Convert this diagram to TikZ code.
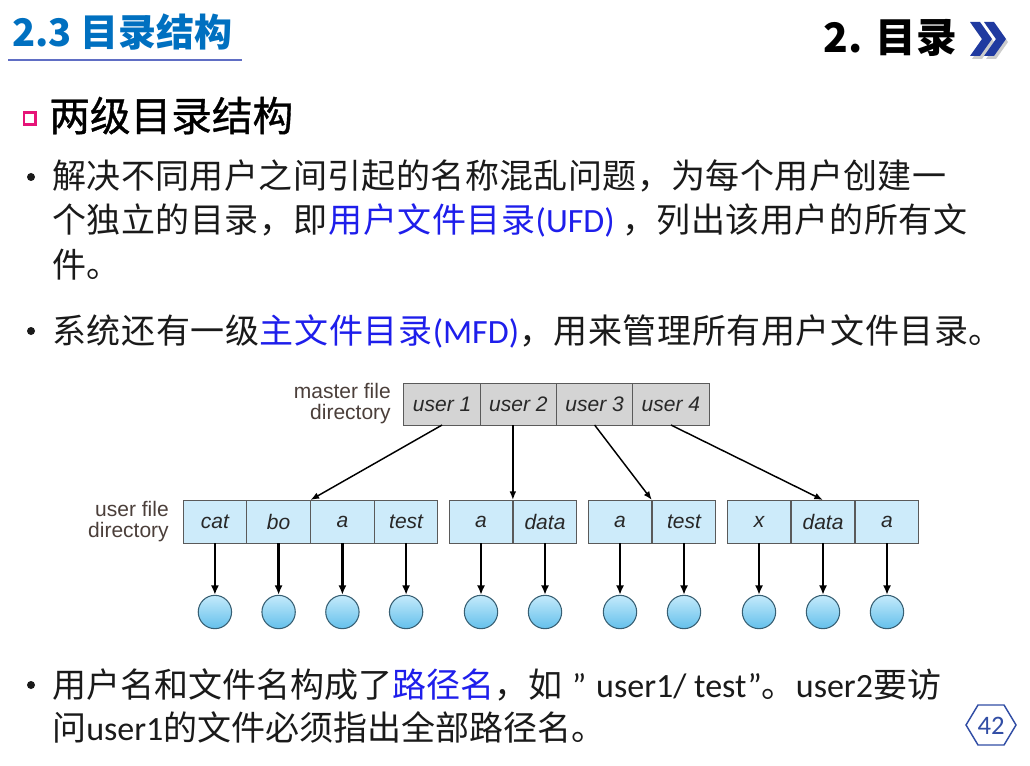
\documentclass[tikz,border=0pt]{standalone}
\usepackage{fontspec}
\setmainfont{Noto Sans CJK SC}
\newfontfamily\headfont{Noto Sans CJK SC}[FakeBold=0.9]
\newfontfamily\lat{Carlito}
\newfontfamily\arial{Liberation Sans}
\usetikzlibrary{arrows.meta}

\definecolor{titleblue}{RGB}{0,112,192}
\definecolor{rulecol}{RGB}{96,110,196}
\definecolor{chevron}{RGB}{32,58,160}
\definecolor{pinkbox}{RGB}{230,20,120}
\definecolor{bodytext}{RGB}{26,26,26}
\definecolor{hl}{RGB}{30,30,235}
\definecolor{mfdfill}{RGB}{212,212,212}
\definecolor{ufdfill}{RGB}{205,235,250}
\definecolor{cellborder}{RGB}{90,90,90}
\definecolor{celltext}{RGB}{40,40,40}
\definecolor{labeltext}{RGB}{75,63,58}
\definecolor{leaftop}{RGB}{196,234,251}
\definecolor{leafbot}{RGB}{100,192,235}
\definecolor{leafborder}{RGB}{55,95,115}
\definecolor{pagenum}{RGB}{50,78,165}

% letter-spaced run of characters (for a justified line)
\newcommand\spreadchars[2]{\def\spreadamt{#1}\spreadloop#2\spreadend}
\def\spreadend{}
\def\spreadloop#1{\ifx#1\spreadend\else#1\kern\spreadamt\relax\expandafter\spreadloop\fi}

\begin{document}
\begin{tikzpicture}[x=0.75pt,y=-0.75pt,
  body/.style={anchor=base west,inner sep=0pt,text=bodytext,
    font=\fontsize{25.5pt}{30pt}\selectfont},
  dirlabel/.style={anchor=east,align=right,inner sep=0pt,text=labeltext,
    font=\arial\fontsize{15.75pt}{15.75pt}\selectfont},
  cellbase/.style={draw=cellborder,line width=0.75pt,inner sep=0pt,outer sep=0pt,
    text=celltext,font=\arial\itshape\fontsize{15.75pt}{18pt}\selectfont},
  mcell/.style={cellbase,fill=mfdfill,minimum width=57.19pt,minimum height=31.5pt},
  ucell/.style={cellbase,fill=ufdfill,minimum width=47.8pt,minimum height=32.25pt},
  leaf/.style={circle,draw=leafborder,line width=0.8pt,minimum size=25pt,inner sep=0pt,
    top color=leaftop,bottom color=leafbot},
  ptr/.style={draw=black,line width=1.1pt,-{Latex[length=6.5pt,width=5pt]}},
  fileptr/.style={draw=black,line width=1.9pt,-{Latex[length=7pt,width=6pt]}},
  bulletdot/.style={circle,fill=bodytext,inner sep=0pt,minimum size=6pt}
]
\useasboundingbox (0,0) rectangle (1030,766);
\fill[white] (0,0) rectangle (1030,766);

% ---- header ----
\node[anchor=base west,inner sep=0pt,text=titleblue,
  font=\bfseries\fontsize{28.5pt}{30pt}\selectfont] (title) at (12,47) {2.3 目录结构};
\draw[rulecol,line width=1.5pt] (8,60) -- (242,60);
\node[anchor=base east,inner sep=0pt,text=black,
  font=\bfseries\fontsize{30.5pt}{34pt}\selectfont] (chapter) at (957,53) {2. 目录};
% double chevron with a soft shadow
\foreach \dx in {0,14}{
  \fill[gray!40] (972+\dx,25) -- ++(10,0) -- ++(12,17) -- ++(-12,17) -- ++(-10,0) -- ++(12,-17) -- cycle;
}
\foreach \dx in {0,14}{
  \fill[chevron] (970+\dx,22) -- ++(10,0) -- ++(12,17) -- ++(-12,17) -- ++(-10,0) -- ++(12,-17) -- cycle;
}

% ---- section heading ----
\draw[pinkbox,line width=2pt] (24,112.5) rectangle (35.5,124.5);
\node[anchor=base west,inner sep=0pt,text=black,
  font=\headfont\fontsize{30.5pt}{34pt}\selectfont] (heading) at (49,131) {两级目录结构};

% ---- bullet text ----
\node[bulletdot] (b1) at (31,177) {};
\node[body] (l1) at (52,189) {\spreadchars{0.3pt}{解决不同用户之间引起的名称混乱问题，为每个用户创建一}};
\node[body] (l2) at (52,233) {\spreadchars{0.4pt}{个独立的目录，即}\textcolor{hl}{\spreadchars{0.4pt}{用户文件目录}{\lat(UFD)}} \spreadchars{0.4pt}{，列出该用户的所有文}};
\node[body] (l3) at (52,277) {件。};
\node[bulletdot] (b2) at (31,331) {};
\node[body] (l4) at (52,343) {\spreadchars{0.45pt}{系统还有一级}\textcolor{hl}{\spreadchars{0.45pt}{主文件目录}{\lat(MFD)}}\spreadchars{0.45pt}{，用来管理所有用户文件目录。}};
\node[bulletdot] (b3) at (31,685) {};
\node[body] (l5) at (52,697) {用户名和文件名构成了\textcolor{hl}{路径名}，如\makebox[1em][c]{\lat ”}{\lat user1/ test”}。{\lat user2}要访};
\node[body] (l6) at (52,740) {问{\lat user1}的文件必须指出全部路径名。};

% ---- page number ----
\draw[pagenum,line width=1.1pt] (966,725) -- (978,705) -- (1004,705) -- (1016,725) -- (1004,745) -- (978,745) -- cycle;
\node[text=pagenum,inner sep=0pt,font=\lat\fontsize{20pt}{22pt}\selectfont] (page) at (991,726) {42};

% ---- master file directory ----
\node[dirlabel] (mfdlabel) at (391,404) {master file\\directory};
\node[mcell] (u1) at (442.1,404) {user 1};
\node[mcell] (u2) at (518.4,404) {user 2};
\node[mcell] (u3) at (594.6,404) {user 3};
\node[mcell] (u4) at (670.9,404) {user 4};

% ---- user file directories ----
\node[dirlabel] (ufdlabel) at (169,522) {user file\\directory};
\node[ucell] (g1a) at (214.9,521.5) {cat};
\node[ucell] (g1b) at (278.6,521.5) {bo};
\node[ucell] (g1c) at (342.4,521.5) {a};
\node[ucell] (g1d) at (406.1,521.5) {test};
\node[ucell] (g2a) at (481,521.5) {a};
\node[ucell] (g2b) at (545,521.5) {data};
\node[ucell] (g3a) at (620,521.5) {a};
\node[ucell] (g3b) at (684,521.5) {test};
\node[ucell] (g4a) at (759,521.5) {x};
\node[ucell] (g4b) at (823,521.5) {data};
\node[ucell] (g4c) at (887,521.5) {a};

% MFD entries point into each user's directory
\draw[ptr] (u1.south) -- (g1b.north east);
\draw[ptr] (g2a.north east |- u2.south) -- (g2a.north east);
\draw[ptr] (u3.south) -- (g3a.north east);
\draw[ptr] (u4.south) -- (g4b.north);

% ---- files ----
\foreach \c in {g1a,g1b,g1c,g1d,g2a,g2b,g3a,g3b,g4a,g4b,g4c}{
  \node[leaf] (f\c) at (\c.center |- 0,612) {};
  \draw[fileptr] (\c.south) -- (f\c.north);
}
\end{tikzpicture}
\end{document}
